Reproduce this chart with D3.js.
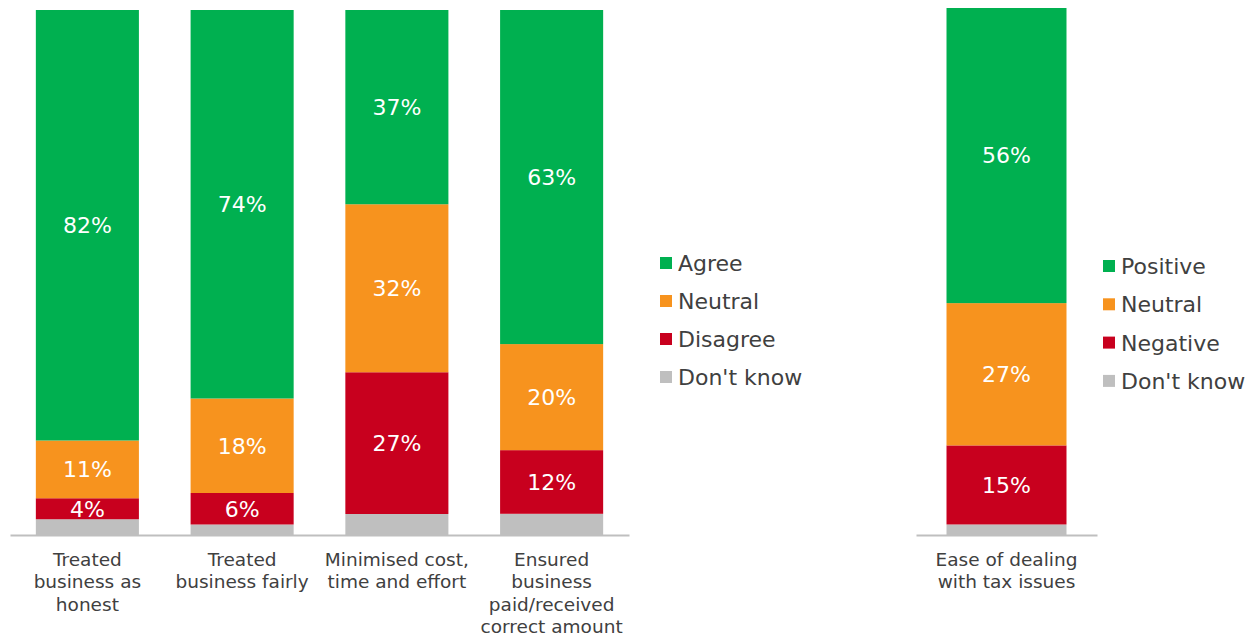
<!DOCTYPE html>
<html>
<head>
<meta charset="utf-8">
<script src="https://cdn.jsdelivr.net/npm/d3@7"></script>
<style>
  html, body { margin: 0; padding: 0; background: #fff; }
  svg { display: block; font-family: "DejaVu Sans", Verdana, sans-serif; }
</style>
</head>
<body>
<svg id="chart" width="1256" height="636"></svg>
<script>
// Perceptions of treatment (left panel)
const categories = [
  ["Treated", "business as", "honest"],
  ["Treated", "business fairly"],
  ["Minimised cost,", "time and effort"],
  ["Ensured", "business", "paid/received", "correct amount"]
];
const agree    = [82, 74, 37, 63];
const neutral  = [11, 18, 32, 20];
const disagree = [4, 6, 27, 12];
const dontKnow = [3, 2, 4, 4];
const leftKeys = ["Agree", "Neutral", "Disagree", "Don't know"];

// Ease of dealing (right panel)
const easeCategory = [["Ease of dealing", "with tax issues"]];
const positive = [56];
const easeNeutral = [27];
const negative = [15];
const easeDontKnow = [2];
const rightKeys = ["Positive", "Neutral", "Negative", "Don't know"];

const colors = ["#00B050", "#F7931E", "#C8001E", "#BFBFBF"];
const textColor = "#404040";
const axisColor = "#BFBFBF";

const svg = d3.select("#chart");

function drawPanel(opts) {
  const { labels, series, keys, xRange, yTop, baseline, padInner, padOuter, legendX, legendY, legendStep } = opts;
  const idx = labels.map((_, i) => i);
  const rows = idx.map(i => {
    const r = { i };
    keys.forEach((k, j) => { r[k] = series[j][i]; });
    return r;
  });
  // 100% stacked, from the bottom: Don't know, negative, neutral, positive
  const order = keys.slice().reverse();
  const stacked = d3.stack().keys(order).offset(d3.stackOffsetExpand)(rows);

  const x = d3.scaleBand().domain(idx).range(xRange)
    .paddingInner(padInner).paddingOuter(padOuter);
  const y = d3.scaleLinear().domain([0, 1]).range([baseline, yTop]);
  const color = d3.scaleOrdinal().domain(keys).range(colors);

  const g = svg.append("g");

  const layers = g.selectAll("g.layer").data(stacked).join("g")
    .attr("class", "layer")
    .attr("fill", d => color(d.key));

  layers.selectAll("rect").data(d => d).join("rect")
    .attr("x", d => x(d.data.i))
    .attr("width", x.bandwidth())
    .attr("y", d => y(d[1]))
    .attr("height", d => y(d[0]) - y(d[1]));

  // value labels on all but the "Don't know" segment
  stacked.filter(s => s.key !== "Don't know").forEach(s => {
    g.append("g").selectAll("text").data(s).join("text")
      .attr("x", d => x(d.data.i) + x.bandwidth() / 2)
      .attr("y", d => (y(d[0]) + y(d[1])) / 2)
      .attr("dy", "0.36em")
      .attr("text-anchor", "middle")
      .attr("fill", "#fff")
      .style("font-size", "22px")
      .text(d => d.data[s.key] + "%");
  });

  // baseline axis
  const axis = d3.axisBottom(x).tickSize(0).tickFormat("");
  const ax = g.append("g").attr("transform", `translate(0,${baseline})`).call(axis);
  ax.select(".domain").attr("stroke", axisColor).attr("stroke-width", 2);

  // category labels
  idx.forEach(i => {
    const t = g.append("text")
      .attr("text-anchor", "middle")
      .attr("fill", textColor)
      .style("font-size", "18.5px");
    labels[i].forEach((line, k) => {
      t.append("tspan")
        .attr("x", x(i) + x.bandwidth() / 2)
        .attr("y", baseline + 31 + k * 22.3)
        .text(line);
    });
  });

  // legend
  const lg = g.append("g").attr("transform", `translate(${legendX},${legendY})`);
  const items = lg.selectAll("g").data(keys).join("g")
    .attr("transform", (d, j) => `translate(0,${j * legendStep})`);
  items.append("rect")
    .attr("x", 0).attr("y", -6).attr("width", 12).attr("height", 12)
    .attr("fill", d => color(d));
  items.append("text")
    .attr("x", 18).attr("y", 0).attr("dy", "0.36em")
    .attr("fill", textColor)
    .style("font-size", "22px")
    .text(d => d);
}

drawPanel({
  labels: categories,
  series: [agree, neutral, disagree, dontKnow],
  keys: leftKeys,
  xRange: [10, 629],
  yTop: 10, baseline: 535,
  padInner: 0.334, padOuter: 0.167,
  legendX: 660, legendY: 263, legendStep: 38
});

drawPanel({
  labels: easeCategory,
  series: [positive, easeNeutral, negative, easeDontKnow],
  keys: rightKeys,
  xRange: [916, 1097],
  yTop: 8, baseline: 535,
  padInner: 0.2027, padOuter: 0.2027,
  legendX: 1103, legendY: 266, legendStep: 38.3
});
</script>
</body>
</html>
